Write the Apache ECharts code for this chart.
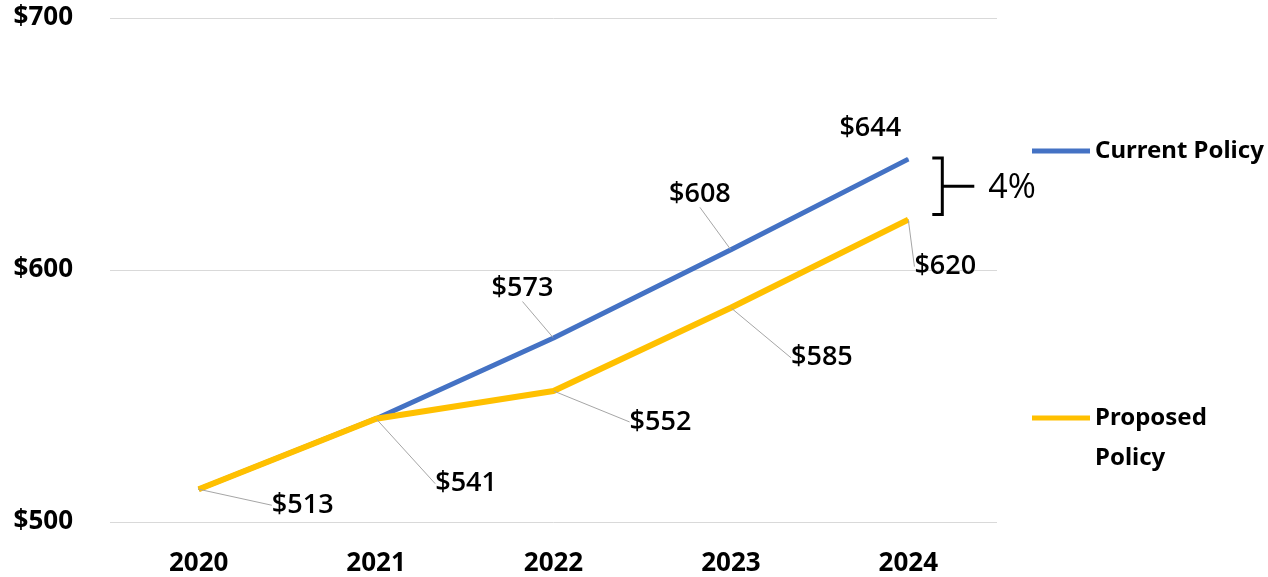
<!DOCTYPE html>
<html>
<head>
<meta charset="utf-8">
<script src="https://cdn.jsdelivr.net/npm/echarts@6/dist/echarts.min.js"></script>
<style>
html,body{margin:0;padding:0;background:#fff;}
#chart{width:1268px;height:577px;}
</style>
</head>
<body>
<div id="chart"></div>
<script>
var years = ['2020', '2021', '2022', '2023', '2024'];
var currentPolicy = [513, 541, 573, 608, 644];
var proposedPolicy = [513, 541, 552, 585, 620];
var currentLabelShown = [false, false, true, true, true];
var proposedLabelShown = [true, true, true, true, true];
var yTicks = [500, 600, 700];
var gapLabel = '4%';

// label placement (style, relative offsets from the point, leader visibility)
var curOffsets = [[0,0],[0,0],[-31,-50],[-31,-56],[-38,-31]];
var curLeader = [false, false, true, true, false];
var propOffsets = [[104,16],[90,65],[107,31],[91,50],[37,47]];
var propLeader = [true, true, true, true, true];

var FONT = '"Open Sans", "Noto Sans", sans-serif';
var BFONT = '"Noto Sans", sans-serif';
var chart = echarts.init(document.getElementById('chart'));

function buildData(values, shown, leader) {
  return values.map(function (v, i) {
    return { value: v, label: { show: shown[i] }, labelLine: { show: shown[i] && leader[i] } };
  });
}

var labelCommon = {
  show: true,
  position: 'inside',
  fontFamily: FONT,
  fontWeight: 600,
  fontSize: 27,
  color: '#000',
  formatter: function (p) { return '$' + p.value; }
};
var labelLineCommon = { show: true, lineStyle: { color: '#a6a6a6', width: 1 } };

var option = {
  animation: false,
  backgroundColor: '#fff',
  grid: { left: 110, right: 271, top: 18, bottom: 54 },
  xAxis: {
    type: 'category',
    data: years,
    boundaryGap: true,
    axisLine: { show: false },
    axisTick: { show: false },
    axisLabel: { fontFamily: BFONT, fontWeight: 'bold', fontSize: 26, color: '#000', margin: 29 }
  },
  yAxis: {
    type: 'value',
    min: yTicks[0],
    max: yTicks[yTicks.length - 1],
    interval: yTicks[1] - yTicks[0],
    axisLine: { show: false },
    axisTick: { show: false },
    splitLine: { lineStyle: { color: '#d9d9d9', width: 1 } },
    axisLabel: { fontFamily: BFONT, fontWeight: 'bold', fontSize: 26, color: '#000', margin: 37,
      formatter: function (v) { return '$' + v; } }
  },
  legend: [
    {
      data: [{ name: 'Current Policy', icon: 'rect' }],
      left: 1032, top: 135, padding: 0,
      itemWidth: 58, itemHeight: 5, itemGap: 5,
      textStyle: { fontFamily: BFONT, fontWeight: 'bold', fontSize: 24, color: '#000', lineHeight: 32 }
    },
    {
      data: [{ name: 'Proposed Policy', icon: 'rect' }],
      left: 1032, top: 358, padding: 0,
      itemWidth: 58, itemHeight: 5, itemGap: 5,
      formatter: function (n) { return '\u00a0\n' + n.replace(' ', '\n'); },
      textStyle: { fontFamily: BFONT, fontWeight: 'bold', fontSize: 24, color: '#000', lineHeight: 40 }
    }
  ],
  series: [
    {
      name: 'Current Policy',
      type: 'line',
      data: buildData(currentPolicy, currentLabelShown, curLeader),
      symbol: 'circle', symbolSize: 1, showSymbol: true,
      itemStyle: { color: '#4472C4' },
      lineStyle: { color: '#4472C4', width: 5 },
      label: labelCommon,
      labelLine: labelLineCommon,
      labelLayout: function (p) { var o = curOffsets[p.dataIndex]; return { dx: o[0], dy: o[1] }; },
      z: 2
    },
    {
      name: 'Proposed Policy',
      type: 'line',
      data: buildData(proposedPolicy, proposedLabelShown, propLeader),
      symbol: 'circle', symbolSize: 1, showSymbol: true,
      itemStyle: { color: '#FFC000' },
      lineStyle: { color: '#FFC000', width: 6 },
      label: labelCommon,
      labelLine: labelLineCommon,
      labelLayout: function (p) { var o = propOffsets[p.dataIndex]; return { dx: o[0], dy: o[1] }; },
      z: 3
    }
  ]
};
chart.setOption(option);

// gap bracket annotation, positioned from data via the axes
var last = years.length - 1;
var pTop = chart.convertToPixel({ seriesIndex: 0 }, [last, currentPolicy[last]]);
var pBot = chart.convertToPixel({ seriesIndex: 1 }, [last, proposedPolicy[last]]);
var bx = pTop[0] + 34, yT = pTop[1] - 1, yB = pBot[1] - 5, yM = (yT + yB) / 2;
chart.setOption({
  graphic: [
    { type: 'polyline', shape: { points: [[bx - 10, yT], [bx, yT], [bx, yB], [bx - 10, yB]] },
      style: { stroke: '#000', lineWidth: 3, fill: null } },
    { type: 'line', shape: { x1: bx, y1: yM, x2: bx + 32, y2: yM },
      style: { stroke: '#000', lineWidth: 3 } },
    { type: 'text', x: bx + 46, y: yM + 2, style: { text: gapLabel, fontFamily: FONT, fontSize: 34,
      fill: '#000', verticalAlign: 'middle', textAlign: 'left' } }
  ]
});
</script>
</body>
</html>
